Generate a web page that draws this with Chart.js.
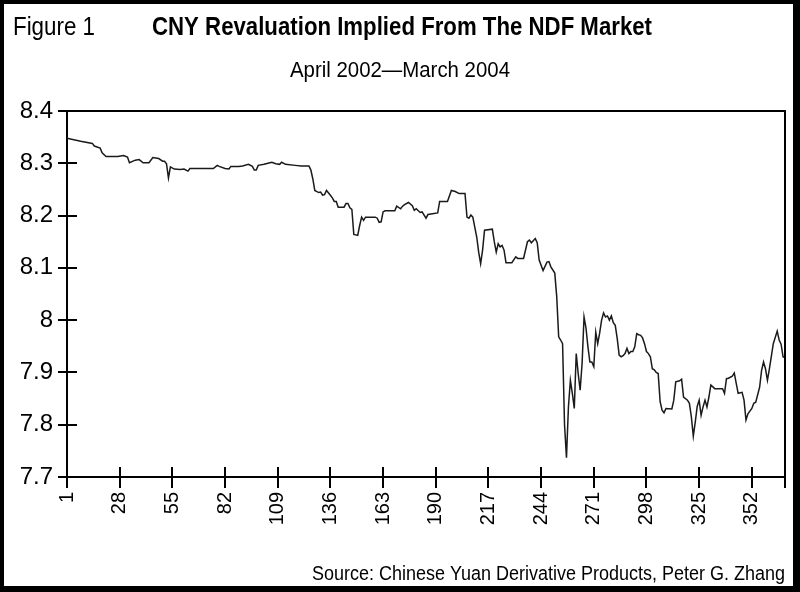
<!DOCTYPE html>
<html>
<head>
<meta charset="utf-8">
<script src="https://cdn.jsdelivr.net/npm/chart.js@4.4.1/dist/chart.umd.min.js"></script>
<style>
  html, body { margin: 0; padding: 0; background: #fff; }
  canvas { display: block; }
</style>
</head>
<body>
<canvas id="chart" width="800" height="592"></canvas>
<script>
// trading day index (x) and CNY NDF implied rate (y)
const days = [
  1, 8, 14, 15, 18, 19, 21, 27, 30, 32, 33, 36, 38, 40, 43, 45, 48, 50, 51, 52,
  53, 54, 56, 59, 61, 63, 64, 76, 78, 79, 82, 84, 85, 89, 91, 94, 96, 97, 98, 99,
  102, 106, 108, 110, 111, 113, 118, 121, 125, 126, 127, 128, 130, 131, 132, 133, 134, 136, 137, 138,
  139, 140, 143, 144, 145, 146, 147, 148, 150, 151, 152, 153, 154, 159, 160, 161, 162, 163, 164, 169,
  170, 172, 173, 174, 176, 178, 179, 180, 182, 183, 185, 186, 191, 192, 196, 198, 200, 202, 205, 206,
  207, 208, 209, 211, 212, 213, 214, 215, 219, 220, 221, 222, 223, 224, 225, 226, 229, 231, 232, 235,
  237, 238, 239, 241, 242, 243, 245, 247, 248, 249, 251, 252, 253, 254, 255, 256, 257, 258, 259, 260,
  261, 262, 263, 264, 265, 266, 267, 268, 269, 270, 271, 272, 273, 274, 275, 276, 277, 278, 279, 280,
  281, 282, 283, 284, 285, 286, 287, 288, 289, 290, 291, 292, 293, 294, 295, 296, 297, 298, 299, 300,
  301, 302, 303, 304, 305, 306, 307, 308, 311, 312, 313, 315, 316, 317, 319, 320, 321, 322, 323, 324,
  325, 326, 327, 328, 329, 330, 331, 333, 337, 338, 339, 340, 342, 343, 344, 345, 347, 348, 349, 350,
  352, 353, 354, 356, 357, 358, 359, 360, 361, 363, 365, 366, 367, 368, 369
];
const rates = [
  8.348, 8.342, 8.338, 8.333, 8.329, 8.320, 8.313, 8.313, 8.315, 8.312, 8.301, 8.306, 8.307, 8.301, 8.301, 8.311, 8.309, 8.304, 8.304, 8.299,
  8.272, 8.293, 8.289, 8.288, 8.289, 8.285, 8.290, 8.290, 8.296, 8.294, 8.290, 8.289, 8.294, 8.294, 8.295, 8.298, 8.294, 8.287, 8.287, 8.296,
  8.298, 8.302, 8.299, 8.298, 8.302, 8.298, 8.296, 8.295, 8.295, 8.287, 8.270, 8.248, 8.244, 8.245, 8.239, 8.240, 8.248, 8.239, 8.234, 8.227,
  8.227, 8.216, 8.216, 8.223, 8.223, 8.215, 8.212, 8.164, 8.162, 8.181, 8.197, 8.191, 8.197, 8.197, 8.195, 8.187, 8.188, 8.207, 8.209, 8.209,
  8.218, 8.213, 8.218, 8.221, 8.225, 8.219, 8.210, 8.213, 8.206, 8.207, 8.195, 8.202, 8.205, 8.227, 8.227, 8.248, 8.246, 8.242, 8.242, 8.197,
  8.195, 8.201, 8.197, 8.159, 8.130, 8.108, 8.134, 8.172, 8.174, 8.150, 8.130, 8.146, 8.140, 8.143, 8.134, 8.110, 8.110, 8.121, 8.118, 8.118,
  8.150, 8.153, 8.148, 8.156, 8.148, 8.115, 8.095, 8.111, 8.112, 8.102, 8.090, 8.045, 7.968, 7.962, 7.955, 7.800, 7.737, 7.834, 7.885, 7.860,
  7.831, 7.936, 7.898, 7.866, 7.917, 8.006, 7.985, 7.949, 7.920, 7.920, 7.911, 7.977, 7.955, 7.975, 8.000, 8.014, 8.006, 8.008, 8.000, 8.008,
  7.995, 7.990, 7.965, 7.933, 7.930, 7.932, 7.936, 7.946, 7.936, 7.940, 7.940, 7.949, 7.974, 7.972, 7.971, 7.966, 7.955, 7.940, 7.936, 7.930,
  7.907, 7.905, 7.900, 7.898, 7.844, 7.828, 7.823, 7.831, 7.830, 7.847, 7.882, 7.884, 7.887, 7.853, 7.847, 7.841, 7.815, 7.778, 7.805, 7.835,
  7.847, 7.818, 7.834, 7.847, 7.834, 7.853, 7.876, 7.869, 7.869, 7.860, 7.888, 7.889, 7.893, 7.899, 7.879, 7.860, 7.862, 7.847, 7.809, 7.821,
  7.831, 7.841, 7.843, 7.872, 7.904, 7.920, 7.907, 7.885, 7.907, 7.955, 7.979, 7.962, 7.954, 7.930, 7.928
];
const xTicks = [1, 28, 55, 82, 109, 136, 163, 190, 217, 244, 271, 298, 325, 352];
const yTicks = [7.7, 7.8, 7.9, 8.0, 8.1, 8.2, 8.3, 8.4];

const sans = "'Liberation Sans', Arial, sans-serif";

// condensed look: squeeze a text line to the width it has in the original
function fitText(ctx, text, x, y, width, align) {
  const w = ctx.measureText(text).width;
  const k = width / w;
  ctx.save();
  ctx.textAlign = 'left';
  let left = x;
  if (align === 'center') left = x - width / 2;
  if (align === 'right') left = x - width;
  ctx.translate(left, y);
  ctx.scale(k, 1);
  ctx.fillText(text, 0, 0);
  ctx.restore();
}

// black frame, closed plot box, inner tick marks and the text blocks
const decor = {
  id: 'decor',
  beforeDraw(chart) {
    const ctx = chart.ctx;
    ctx.save();
    ctx.fillStyle = '#000';
    ctx.fillRect(0, 0, 800, 592);
    ctx.fillStyle = '#fff';
    ctx.fillRect(4, 4, 800 - 4 - 7, 592 - 4 - 6);
    ctx.restore();
  },
  afterDatasetsDraw(chart) {
    const { ctx, chartArea: a, scales } = chart;
    ctx.save();
    ctx.strokeStyle = '#000';
    ctx.lineWidth = 2;
    ctx.beginPath();
    ctx.moveTo(a.left, a.top);
    ctx.lineTo(a.right, a.top);
    ctx.lineTo(a.right, a.bottom + 11);
    scales.y.ticks.forEach(t => {
      const py = Math.round(scales.y.getPixelForValue(t.value));
      ctx.moveTo(a.left, py);
      ctx.lineTo(a.left + 10, py);
    });
    scales.x.ticks.forEach(t => {
      const px = Math.round(scales.x.getPixelForValue(t.value));
      ctx.moveTo(px, a.bottom);
      ctx.lineTo(px, a.bottom - 10);
    });
    ctx.stroke();
    ctx.restore();
  },
  afterDraw(chart) {
    const ctx = chart.ctx;
    ctx.save();
    ctx.fillStyle = '#000';
    ctx.textBaseline = 'alphabetic';
    ctx.font = '25px ' + sans;
    fitText(ctx, 'Figure 1', 13, 35, 82, 'left');
    ctx.font = 'bold 25px ' + sans;
    fitText(ctx, 'CNY Revaluation Implied From The NDF Market', 402, 35, 500, 'center');
    ctx.font = '22px ' + sans;
    fitText(ctx, 'April 2002\u2014March 2004', 400, 77, 220, 'center');
    ctx.font = '20px ' + sans;
    fitText(ctx, 'Source: Chinese Yuan Derivative Products, Peter G. Zhang', 785, 580, 473, 'right');
    ctx.restore();
  }
};

new Chart(document.getElementById('chart'), {
  type: 'line',
  data: {
    datasets: [{
      data: days.map((d, i) => ({ x: d, y: rates[i] })),
      borderColor: '#1a1a1a',
      borderWidth: 1.5,
      pointRadius: 0,
      tension: 0,
      fill: false
    }]
  },
  options: {
    responsive: false,
    animation: false,
    layout: { padding: { top: 111, left: 10, right: 15, bottom: 55 } },
    plugins: {
      legend: { display: false },
      tooltip: { enabled: false },
      title: { display: false }
    },
    scales: {
      x: {
        type: 'linear',
        min: 1,
        max: 369,
        afterBuildTicks: axis => { axis.ticks = xTicks.map(v => ({ value: v })); },
        afterFit: axis => { axis.height = 60; },
        grid: { drawOnChartArea: false, drawTicks: true, tickLength: 11, color: '#000', lineWidth: 2 },
        border: { display: true, color: '#000', width: 2 },
        ticks: {
          autoSkip: false,
          minRotation: 90,
          maxRotation: 90,
          padding: 4,
          color: '#000',
          font: { family: sans, size: 20 }
        }
      },
      y: {
        min: 7.7,
        max: 8.4,
        afterBuildTicks: axis => { axis.ticks = yTicks.map(v => ({ value: v })); },
        afterFit: axis => { axis.width = 57; },
        grid: { drawOnChartArea: false, drawTicks: true, tickLength: 9, color: '#000', lineWidth: 2 },
        border: { display: true, color: '#000', width: 2 },
        ticks: {
          padding: 5,
          color: '#000',
          font: { family: sans, size: 24 },
          callback: v => String(Math.round(v * 10) / 10)
        }
      }
    }
  },
  plugins: [decor]
});
</script>
</body>
</html>
